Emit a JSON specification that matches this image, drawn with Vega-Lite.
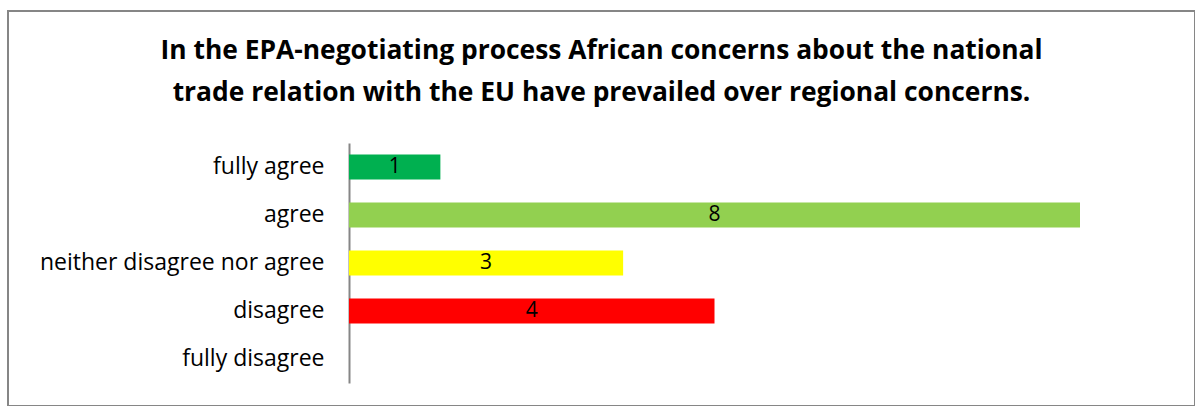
{
  "$schema": "https://vega.github.io/schema/vega-lite/v6.json",
  "autosize": {"type": "none"},
  "padding": {"left": 8, "top": 11, "right": 0, "bottom": 0},
  "width": 1187,
  "height": 395,
  "background": "white",
  "title": {
    "text": ["In the EPA-negotiating process African concerns about the national", "trade relation with the EU have prevailed over regional concerns."],
    "anchor": "middle",
    "frame": "group",
    "offset": -116,
    "baseline": "alphabetic",
    "font": "Open Sans",
    "fontSize": 26.4,
    "fontWeight": "bold",
    "color": "#000000",
    "lineHeight": 42
  },
  "config": {
    "view": {"stroke": "#868686", "strokeWidth": 2},
    "font": "Open Sans"
  },
  "data": {
    "values": [
      {"response": "fully agree", "count": 1},
      {"response": "agree", "count": 8},
      {"response": "neither disagree nor agree", "count": 3},
      {"response": "disagree", "count": 4},
      {"response": "fully disagree", "count": 0}
    ]
  },
  "encoding": {
    "y": {
      "field": "response",
      "type": "nominal",
      "sort": ["fully agree", "agree", "neither disagree nor agree", "disagree", "fully disagree"],
      "scale": {"range": [132, 372], "paddingInner": 0.48, "paddingOuter": 0.24},
      "axis": {
        "title": null,
        "orient": "left",
        "offset": -341,
        "domainColor": "#868686",
        "domainWidth": 2,
        "ticks": false,
        "grid": false,
        "labelPadding": 25,
        "labelFont": "Open Sans",
        "labelFontSize": 23,
        "labelColor": "#000000",
        "labelLimit": 400
      }
    }
  },
  "layer": [
    {
      "mark": {"type": "bar"},
      "encoding": {
        "x": {"field": "count", "type": "quantitative", "scale": {"domain": [0, 8], "range": [341, 1072]}, "axis": null},
        "color": {
          "field": "response",
          "type": "nominal",
          "scale": {
            "domain": ["fully agree", "agree", "neither disagree nor agree", "disagree", "fully disagree"],
            "range": ["#00B050", "#92D050", "#FFFF00", "#FF0000", "#C00000"]
          },
          "legend": null
        }
      }
    },
    {
      "transform": [{"filter": "datum.count > 0"}],
      "mark": {"type": "text", "fontSize": 21, "color": "#000000", "font": "Open Sans", "baseline": "middle", "align": "center"},
      "encoding": {
        "x": {"field": "count", "type": "quantitative", "scale": {"domain": [0, 16], "range": [341, 1072]}, "axis": null},
        "text": {"field": "count", "type": "quantitative"}
      }
    }
  ],
  "resolve": {"scale": {"x": "independent"}}
}
